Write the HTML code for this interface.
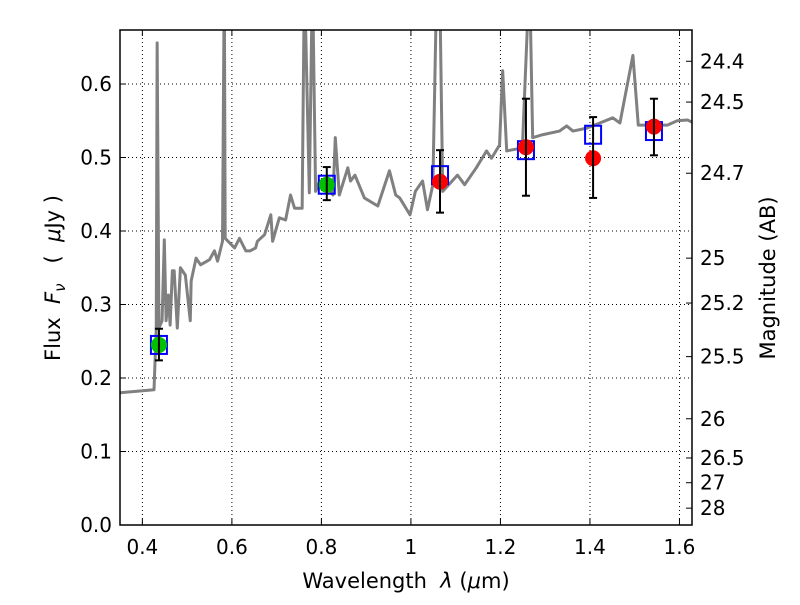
<!DOCTYPE html>
<html><head><meta charset="utf-8"><style>
body{margin:0;background:#fff;}
svg text{font-family:"DejaVu Sans","Liberation Sans",sans-serif;fill:#000;}
</style></head><body>
<svg id="chart" width="800" height="600" xmlns="http://www.w3.org/2000/svg">
<rect width="800" height="600" fill="#fff"/>
<g id="grid"></g>
<g id="spec"></g>
<g id="pts"></g>
<rect x="120" y="30" width="572" height="495" fill="none" stroke="#000" stroke-width="1.5"/>
<g id="ticks"></g>
<text x="406" y="588" font-size="21" text-anchor="middle" xml:space="preserve">Wavelength  <tspan font-style="italic">λ</tspan> (<tspan font-style="italic">μ</tspan>m)</text>
<text transform="translate(60,278) rotate(-90)" font-size="21" text-anchor="middle" xml:space="preserve">Flux  <tspan font-style="italic">F</tspan><tspan font-style="italic" font-size="15" dy="5">ν</tspan><tspan dy="-5">   (  </tspan><tspan font-style="italic">μ</tspan>Jy )</text>
<text transform="translate(775,278) rotate(-90)" font-size="21" text-anchor="middle">Magnitude (AB)</text>
</svg>
<script>
const specLam=[0.351,0.426,0.431,0.433,0.437,0.444,0.449,0.453,0.458,0.462,0.467,0.471,0.478,0.485,0.496,0.507,0.509,0.520,0.530,0.550,0.561,0.568,0.579,0.583,0.585,0.606,0.617,0.631,0.641,0.653,0.657,0.673,0.687,0.691,0.706,0.720,0.731,0.740,0.757,0.762,0.773,0.780,0.787,0.796,0.807,0.826,0.831,0.840,0.859,0.865,0.875,0.896,0.926,0.952,0.966,0.975,0.998,1.010,1.026,1.037,1.049,1.058,1.064,1.071,1.104,1.120,1.146,1.169,1.180,1.198,1.205,1.214,1.249,1.265,1.272,1.294,1.332,1.348,1.362,1.393,1.422,1.451,1.467,1.496,1.508,1.573,1.595,1.618,1.632];
const specFlux=[0.180,0.184,0.268,0.656,0.268,0.278,0.388,0.278,0.313,0.272,0.346,0.346,0.268,0.350,0.340,0.278,0.332,0.363,0.354,0.361,0.373,0.359,0.386,0.75,0.390,0.377,0.390,0.373,0.373,0.377,0.386,0.395,0.422,0.386,0.418,0.415,0.449,0.431,0.431,0.75,0.452,0.75,0.454,0.468,0.463,0.449,0.527,0.449,0.486,0.468,0.476,0.445,0.434,0.482,0.449,0.445,0.422,0.454,0.468,0.429,0.463,0.75,0.75,0.454,0.476,0.463,0.486,0.509,0.499,0.517,0.618,0.509,0.513,0.75,0.527,0.531,0.536,0.543,0.536,0.540,0.547,0.554,0.547,0.639,0.544,0.544,0.550,0.551,0.547];
const sqLam=[0.437,0.812,1.065,1.257,1.407,1.543];
const sqFlux=[0.245,0.463,0.476,0.510,0.531,0.536];
const errLo=[0.224,0.442,0.425,0.448,0.445,0.503];
const errHi=[0.267,0.487,0.510,0.580,0.555,0.580];
const greenLam=[0.437,0.812];
const greenFlux=[0.245,0.463];
const redLam=[1.065,1.257,1.407,1.543];
const redFlux=[0.467,0.514,0.499,0.542];
const xTicks=[0.4,0.6,0.8,1.0,1.2,1.4,1.6];
const xTickLabels=["0.4","0.6","0.8","1","1.2","1.4","1.6"];
const yTicks=[0.0,0.1,0.2,0.3,0.4,0.5,0.6];
const yTickLabels=["0.0","0.1","0.2","0.3","0.4","0.5","0.6"];
const magTicks=[24.4,24.5,24.7,25,25.2,25.5,26,26.5,27,28];
const magLabels=["24.4","24.5","24.7","25","25.2","25.5","26","26.5","27","28"];

const X0=0.35,X1=1.628,Y0=0,Y1=0.6735,L=120,R=692,T=30,B=525;
const sx=v=>L+(v-X0)/(X1-X0)*(R-L);
const sy=v=>B-(v-Y0)/(Y1-Y0)*(B-T);
const NS="http://www.w3.org/2000/svg";
function mk(tag,attrs,parent){const e=document.createElementNS(NS,tag);for(const k in attrs)e.setAttribute(k,attrs[k]);parent.appendChild(e);return e;}
const grid=document.getElementById('grid'),ticks=document.getElementById('ticks'),spec=document.getElementById('spec'),pts=document.getElementById('pts');

xTicks.forEach((v,i)=>{
  const x=sx(v);
  const g=mk('line',{x1:x,x2:x,y1:T,y2:B,stroke:'#000','stroke-width':1,'stroke-dasharray':'1,3'},grid);
  
  
  mk('line',{x1:x,x2:x,y1:B,y2:B-6,stroke:'#000'},ticks);
  mk('line',{x1:x,x2:x,y1:T,y2:T+6,stroke:'#000'},ticks);
  const t=mk('text',{x:x,y:B+29,'font-size':20,'text-anchor':'middle'},ticks);
  t.textContent=xTickLabels[i];
  
  
});
yTicks.forEach((v,i)=>{
  const y=sy(v);
  const g=mk('line',{x1:L,x2:R,y1:y,y2:y,stroke:'#000','stroke-width':1,'stroke-dasharray':'1,3'},grid);
  
  
  mk('line',{x1:L,x2:L+6,y1:y,y2:y,stroke:'#000'},ticks);
  const t=mk('text',{x:L-8,y:y+7,'font-size':20,'text-anchor':'end'},ticks);
  t.textContent=yTickLabels[i];
  
  
});
magTicks.forEach((m,i)=>{
  const y=sy(Math.pow(10,(23.9-m)/2.5));
  mk('line',{x1:R,x2:R-6,y1:y,y2:y,stroke:'#000'},ticks);
  const t=mk('text',{x:R+8,y:y+7,'font-size':20},ticks);
  t.textContent=magLabels[i];
  
  
});

const cp=mk('clipPath',{id:'clip'},spec);mk('rect',{x:L,y:T,width:R-L,height:B-T},cp);
const pl=mk('polyline',{points:specLam.map((l,i)=>sx(l)+','+sy(specFlux[i])).join(' '),fill:'none',stroke:'#808080','stroke-width':3,'stroke-linejoin':'round','clip-path':'url(#clip)'},spec);



sqLam.forEach((l,i)=>{
  const x=sx(l),y=sy(sqFlux[i]);
  const s=mk('rect',{x:x-8,y:y-9,width:16,height:18,fill:'none',stroke:'#0000ff','stroke-width':2},pts);
  
  
});
greenLam.forEach((l,i)=>{
  const c=mk('circle',{cx:sx(l),cy:sy(greenFlux[i]),r:8,fill:'#00c000'},pts);
  
  
});
redLam.forEach((l,i)=>{
  const c=mk('circle',{cx:sx(l),cy:sy(redFlux[i]),r:8,fill:'#ff0000'},pts);
  
  
});
sqLam.forEach((l,i)=>{
  const x=sx(l),y1=sy(errHi[i]),y2=sy(errLo[i]);
  const g=mk('g',{stroke:'#000','stroke-width':2},pts);
  
  
  mk('line',{x1:x,x2:x,y1:y1,y2:y2},g);
  mk('line',{x1:x-4,x2:x+4,y1:y1,y2:y1},g);
  mk('line',{x1:x-4,x2:x+4,y1:y2,y2:y2},g);
});
</script>
</body></html>
